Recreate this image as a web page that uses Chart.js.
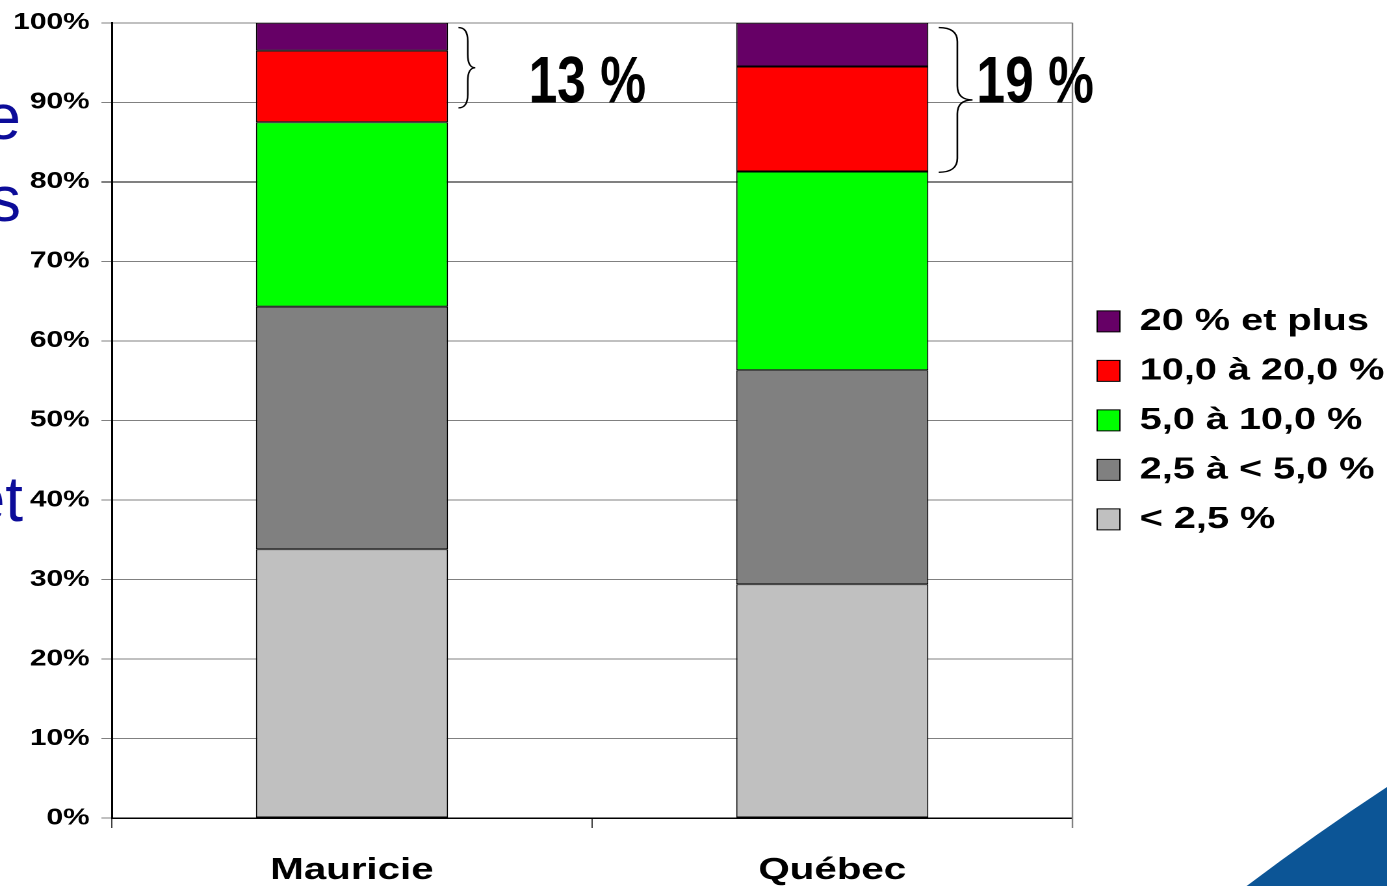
<!DOCTYPE html>
<html>
<head>
<meta charset="utf-8">
<script src="https://cdn.jsdelivr.net/npm/chart.js@4/dist/chart.umd.min.js"></script>
<style>
  html, body { margin: 0; padding: 0; background: #fff; overflow: hidden; }
  /* the slide is wider than it is tall in its text, so stretch it sideways */
  #wrap { width: 1067px; height: 886px; transform: scaleX(1.29991); transform-origin: 0 0; }
</style>
</head>
<body>
<div id="wrap"><canvas id="chart"></canvas></div>
<script>
var stretch = 1.29991;

var categories = ['Mauricie', 'Québec'];
var seriesLabels = ['< 2,5 %', '2,5 à < 5,0 %', '5,0 à 10,0 %', '10,0 à 20,0 %', '20 % et plus'];
var under25 = [33.8, 29.4];
var from25to5 = [30.5, 26.9];
var from5to10 = [23.2, 25.0];
var from10to20 = [9.0, 13.2];
var over20 = [3.5, 5.5];
var seriesColors = ['#C0C0C0', '#808080', '#00FF00', '#FF0000', '#660066'];

var yMax = 100;
var yStep = 10;

// braces on the right of each bar
var braceLabels = ['13 %', '19 %'];
var braceTop = [99.4, 99.4];
var braceBottom = [89.3, 81.2];
var braceLabelBase = [90, 90];

var sideWords = ['e', 's', 'et'];

var decorPlugin = {
    id: 'decor',
    beforeDraw: function(chart) {
        var ctx = chart.ctx;
        var h = chart.height, w = chart.width;
        ctx.save();
        // blue swoosh bottom right
        ctx.fillStyle = '#0c5596';
        ctx.beginPath();
        ctx.moveTo(w - 108, h);
        ctx.quadraticCurveTo(w - 55, h - 52, w, h - 99);
        ctx.lineTo(w, h);
        ctx.closePath();
        ctx.fill();
        // left over words from the slide title (not stretched)
        ctx.scale(1 / stretch, 1);
        ctx.fillStyle = '#0c0c99';
        ctx.font = '64px "Liberation Sans", Arial, sans-serif';
        ctx.textAlign = 'right';
        ctx.textBaseline = 'alphabetic';
        var bases = [139, 221, 521];
        var rights = [21, 21, 23];
        for (var i = 0; i < sideWords.length; i++) {
            ctx.fillText(sideWords[i], rights[i], bases[i]);
        }
        ctx.restore();
    },
    afterDatasetsDraw: function(chart) {
        var ctx = chart.ctx;
        var area = chart.chartArea;
        var y = chart.scales.y;
        ctx.save();
        // right border of the plot area
        ctx.strokeStyle = '#808080';
        ctx.lineWidth = 1.2;
        ctx.beginPath();
        ctx.moveTo(area.right, area.top);
        ctx.lineTo(area.right, area.bottom + 10);
        ctx.stroke();

        var meta = chart.getDatasetMeta(chart.data.datasets.length - 1);
        var braceWidths = [13, 26];
        var labelOffsets = [62, 37];
        for (var i = 0; i < braceLabels.length; i++) {
            var bar = meta.data[i];
            var barRight = bar.x + bar.width / 2;
            drawBrace(ctx, barRight + 8, y.getPixelForValue(braceTop[i]), y.getPixelForValue(braceBottom[i]), braceWidths[i]);

            ctx.save();
            ctx.translate(barRight + labelOffsets[i], y.getPixelForValue(braceLabelBase[i]));
            ctx.scale(0.6, 1);
            ctx.fillStyle = '#000';
            ctx.font = 'bold 66px "Liberation Sans", Arial, sans-serif';
            ctx.textAlign = 'left';
            ctx.textBaseline = 'alphabetic';
            ctx.fillText(braceLabels[i], 0, 0);
            ctx.restore();
        }
        ctx.restore();
    }
};

function drawBrace(ctx, x, yTop, yBot, w) {
    var yMid = (yTop + yBot) / 2;
    var xm = x + w * 0.55;
    var r = Math.min(14, (yBot - yTop) / 6);
    ctx.strokeStyle = '#000';
    ctx.lineWidth = 1.3;
    ctx.beginPath();
    ctx.moveTo(x, yTop);
    ctx.quadraticCurveTo(xm, yTop, xm, yTop + r);
    ctx.lineTo(xm, yMid - r);
    ctx.quadraticCurveTo(xm, yMid, x + w, yMid);
    ctx.quadraticCurveTo(xm, yMid, xm, yMid + r);
    ctx.lineTo(xm, yBot - r);
    ctx.quadraticCurveTo(xm, yBot, x, yBot);
    ctx.stroke();
}

var seriesValues = [under25, from25to5, from5to10, from10to20, over20];
var datasets = [];
for (var i = 0; i < seriesLabels.length; i++) {
    datasets.push({
        label: seriesLabels[i],
        data: seriesValues[i],
        backgroundColor: seriesColors[i],
        borderColor: '#000',
        borderWidth: 1,
        borderSkipped: false,
        categoryPercentage: 1,
        barPercentage: 0.4
    });
}

Chart.defaults.font.family = '"Liberation Sans", Arial, sans-serif';
Chart.defaults.color = '#000';

new Chart(document.getElementById('chart').getContext('2d'), {
    type: 'bar',
    data: { labels: categories, datasets: datasets },
    plugins: [decorPlugin],
    options: {
        responsive: true,
        maintainAspectRatio: false,
        devicePixelRatio: 2,
        animation: false,
        layout: { padding: { top: 20, right: -8, bottom: 0, left: 0 } },
        plugins: {
            tooltip: { enabled: false },
            legend: {
                position: 'right',
                fullSize: false,
                reverse: true,
                labels: {
                    boxWidth: 17.5,
                    boxHeight: 21,
                    padding: 19,
                    color: '#000',
                    font: { size: 30.5, weight: 'bold' }
                }
            }
        },
        scales: {
            x: {
                stacked: true,
                afterFit: function(scale) { scale.height = 68; },
                border: { color: '#000', width: 1.5 },
                grid: { drawOnChartArea: false, tickLength: 10, color: '#404040', lineWidth: 1 },
                ticks: { padding: 24, font: { size: 31, weight: 'bold' }, color: '#000' }
            },
            y: {
                stacked: true,
                min: 0,
                max: yMax,
                afterFit: function(scale) { scale.width = 86; },
                border: { color: '#000', width: 1.5 },
                grid: {
                    tickLength: 8,
                    lineWidth: 1,
                    color: function(c) { return c.tick && c.tick.value === 80 ? '#000' : '#808080'; }
                },
                ticks: {
                    stepSize: yStep,
                    padding: 9,
                    font: { size: 23, weight: 'bold' },
                    color: '#000',
                    callback: function(v) { return v + '%'; }
                }
            }
        }
    }
});
</script>
</body>
</html>
